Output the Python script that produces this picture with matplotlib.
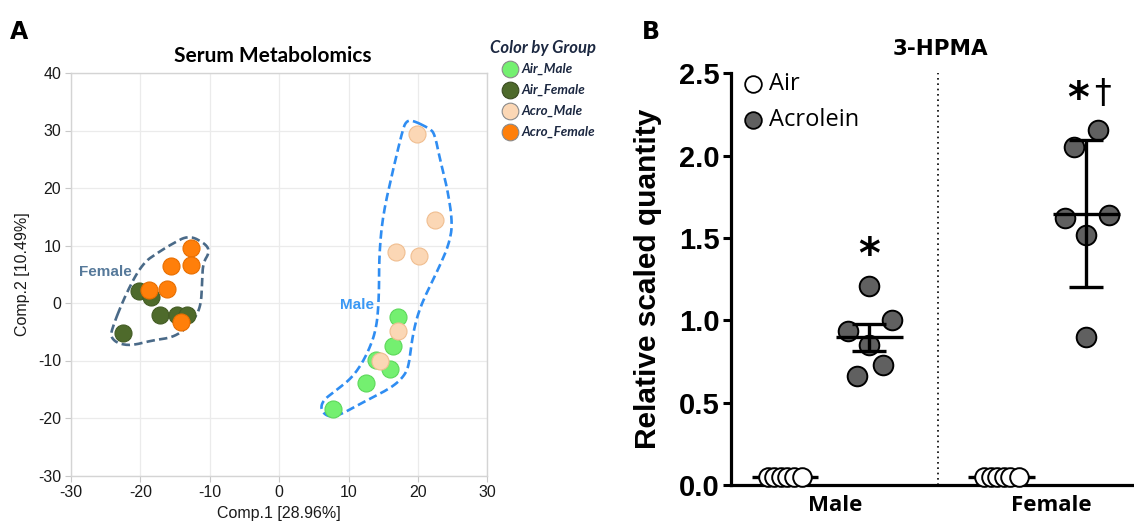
import numpy as np
import matplotlib
matplotlib.use("Agg")
import matplotlib.pyplot as plt
from matplotlib.lines import Line2D

plt.rcParams["axes.unicode_minus"] = False

# ---------------- Panel A data (PCA scores) ----------------
groups = ["Air_Male", "Air_Female", "Acro_Male", "Acro_Female"]
air_male_x = [17.2, 16.4, 14.0, 16.0, 12.5, 7.8]
air_male_y = [-2.4, -7.5, -9.9, -11.4, -13.9, -18.4]
air_female_x = [-20.2, -18.5, -17.2, -14.7, -13.3, -22.5]
air_female_y = [2.1, 1.0, -2.1, -2.1, -2.0, -5.2]
acro_male_x = [19.8, 22.5, 16.9, 20.2, 17.2, 14.5]
acro_male_y = [29.4, 14.5, 8.8, 8.2, -4.9, -10.0]
acro_female_x = [-12.65, -12.7, -15.6, -16.1, -18.8, -14.1]
acro_female_y = [9.5, 6.6, 6.4, 2.5, 2.2, -3.3]

# hand-drawn group outlines (data coords)
female_outline_x = [-24.3, -22.1, -19.7, -17.3, -15.4, -13.0, -10.6, -10.0, -11.0, -11.1, -11.3,
                    -12.5, -14.9, -18.3, -21.2, -23.1, -24.1]
female_outline_y = [-5.05, 1.6, 6.9, 8.9, 10.3, 11.8, 10.3, 8.9, 6.9, 3.4, -0.7,
                    -3.3, -5.9, -6.5, -7.4, -7.1, -6.2]
male_outline_x = [19.2, 21.6, 22.4, 23.1, 24.3, 25.0, 24.5, 23.1, 21.4, 20.0, 19.2, 18.8, 18.3,
                  16.4, 12.5, 9.1, 7.2, 6.0, 6.25, 8.2, 10.6, 12.5, 14.0, 14.4, 14.4, 14.9,
                  16.4, 17.8, 18.3]
male_outline_y = [31.8, 30.4, 29.5, 25.4, 19.6, 13.8, 10.3, 6.3, 2.2, -1.8, -5.9, -10.0, -12.3,
                  -14.6, -17.0, -19.3, -19.9, -18.7, -17.0, -15.2, -12.9, -9.4, -4.8, 1.0, 8.0,
                  15.0, 23.1, 30.1, 31.6]

# ---------------- Panel B data (3-HPMA) ----------------
sexes = ["Male", "Female"]
treatments = ["Air", "Acrolein"]
air_male_vals = [0.05, 0.05, 0.05, 0.05, 0.05, 0.05]
air_female_vals = [0.05, 0.05, 0.05, 0.05, 0.05, 0.05]
acro_male_vals = [1.21, 1.00, 0.935, 0.85, 0.73, 0.66]
acro_female_vals = [2.155, 2.05, 1.62, 1.64, 1.52, 0.90]
acro_err = [0.082, 0.445]          # error bar half-lengths (Male, Female)
b_yticks = [0.0, 0.5, 1.0, 1.5, 2.0, 2.5]

# layout (not data)
air_jit = [-0.08, -0.05, -0.02, 0.01, 0.04, 0.08]
acro_jit_m = [0.0, 0.103, -0.10, 0.0, 0.061, -0.057]
acro_jit_f = [0.054, -0.057, -0.10, 0.103, 0.0, 0.0]
AIR_OFF, ACRO_OFF = -0.23, 0.16

W, H = 1134, 525
fig = plt.figure(figsize=(W / 100, H / 100), dpi=100)

def fx(px):
    return px / W

def fy(py):
    return 1 - py / H

ARIAL = "Liberation Sans"

# ================= Panel A =================
axA = fig.add_axes([fx(71), fy(475.5), fx(487.3) - fx(71), fy(73) - fy(475.5)])
axA.set_xlim(-30, 30)
axA.set_ylim(-30, 40)
axA.set_xticks(range(-30, 31, 10))
axA.set_yticks(range(-30, 41, 10))
axA.grid(True, color="#EBEBEB", lw=0.9)
axA.set_axisbelow(True)
for s in axA.spines.values():
    s.set_color("#D4D4D4")
    s.set_linewidth(1.0)
axA.tick_params(length=4, color="#C8C8C8", labelsize=11.5, labelcolor="#1a1a1a", pad=3)
for lab in axA.get_xticklabels() + axA.get_yticklabels():
    lab.set_family(ARIAL)
axA.set_xlabel("Comp.1 [28.96%]", fontsize=11.5, color="#1a1a1a", labelpad=4, family=ARIAL)
axA.set_ylabel("Comp.2 [10.49%]", fontsize=11.5, color="#1a1a1a", labelpad=6, family=ARIAL)
axA.set_title("Serum Metabolomics", fontsize=15, fontweight="bold", family="Lato", pad=8,
              x=0.485)


def smooth_closed(xs, ys, iters=3):
    pts = np.column_stack([xs, ys]).astype(float)
    for _ in range(iters):
        nxt = np.roll(pts, -1, axis=0)
        q = 0.75 * pts + 0.25 * nxt
        r = 0.25 * pts + 0.75 * nxt
        pts = np.empty((2 * len(q), 2))
        pts[0::2] = q
        pts[1::2] = r
    pts = np.vstack([pts, pts[:1]])
    return pts[:, 0], pts[:, 1]

fxo, fyo = smooth_closed(female_outline_x, female_outline_y)
axA.plot(fxo, fyo, color="#4A6A88", lw=1.9, ls=(0, (3.2, 1.6)), zorder=2)
mxo, myo = smooth_closed(male_outline_x, male_outline_y)
axA.plot(mxo, myo, color="#2F8DF2", lw=1.9, ls=(0, (3.2, 1.6)), zorder=2)
axA.text(-21.2, 5.4, "Female", color="#56799A", fontsize=11, fontweight="bold",
         ha="right", va="center", family=ARIAL)
axA.text(13.7, -0.4, "Male", color="#3A98F5", fontsize=11, fontweight="bold",
         ha="right", va="center", family=ARIAL)

colsA = {"Air_Male": ("#74F070", "#5CD85A"), "Air_Female": ("#4E6A2B", "#435C24"),
         "Acro_Male": ("#FBD7B5", "#F0BE90"), "Acro_Female": ("#FF7F0A", "#E86E00")}
seriesA = {"Air_Male": (air_male_x, air_male_y), "Air_Female": (air_female_x, air_female_y),
           "Acro_Male": (acro_male_x, acro_male_y), "Acro_Female": (acro_female_x, acro_female_y)}
orderA = ["Air_Female", "Acro_Female", "Air_Male", "Acro_Male"]
for g in orderA:
    xs, ys = seriesA[g]
    fc, ec = colsA[g]
    axA.scatter(xs, ys, s=150, color=fc, edgecolor=ec, lw=0.8, zorder=3)

# legend of panel A (placed manually)
fig.text(fx(490), fy(48), "Color by Group", fontsize=12, fontweight="bold", style="italic",
         family="Lato", color="#1C2841", va="center", ha="left")
for k, g in enumerate(groups):
    yy = fy(69 + k * 21.1)
    fig.add_artist(Line2D([fx(510)], [yy], transform=fig.transFigure, ls="none", marker="o",
                          ms=12, mfc=colsA[g][0],
                          mec="#8A8A8A" if g != "Air_Female" else "#3A4A20", mew=0.8))
    fig.text(fx(522), yy, g, fontsize=9.6, fontweight="bold", style="italic", family="Lato",
             color="#1C2841", va="center", ha="left")

# ================= Panel B =================
y0px, y25px = 485.0, 73.3
axB = fig.add_axes([fx(730.7), fy(y0px), fx(1134) - fx(730.7), fy(y25px) - fy(y0px)])
axB.set_xlim(-0.48, 1.38)
axB.set_ylim(0, 2.5)
axB.set_yticks(b_yticks)
axB.set_yticklabels([f"{v:.1f}" for v in b_yticks])
axB.set_xticks([0, 1])
axB.set_xticklabels(sexes)
for s in ["top", "right"]:
    axB.spines[s].set_visible(False)
for s in ["left", "bottom"]:
    axB.spines[s].set_linewidth(2.3)
axB.spines["left"].set_bounds(0, 2.5)
axB.tick_params(axis="y", length=6, width=2.2, pad=2)
axB.tick_params(axis="x", length=0, pad=7)
for lab in axB.get_yticklabels():
    lab.set_fontsize(21)
    lab.set_fontweight("bold")
    lab.set_family(ARIAL)
for lab in axB.get_xticklabels():
    lab.set_fontsize(16)
    lab.set_fontweight("bold")
    lab.set_family("Open Sans")
axB.set_ylabel("Relative scaled quantity", fontsize=21.5, fontweight="bold",
               family=ARIAL, labelpad=12)
axB.set_title("3-HPMA", fontsize=15.5, fontweight="bold", family="DejaVu Sans", x=0.52, pad=13)

axB.axvline(0.475, color="black", lw=1.2, ls=(0, (1, 2.2)), zorder=1)

air_vals = [air_male_vals, air_female_vals]
acro_vals = [acro_male_vals, acro_female_vals]
acro_jits = [acro_jit_m, acro_jit_f]
half = 0.154
for i in range(2):
    xa = i + AIR_OFF
    m_air = float(np.mean(air_vals[i]))
    axB.hlines(m_air, xa - half, xa + half, color="black", lw=2.4, zorder=2)
    axB.scatter([xa + j for j in air_jit], air_vals[i], s=180, color="white",
                edgecolor="black", lw=1.4, zorder=3, clip_on=False)
    xc = i + ACRO_OFF
    m = float(np.mean(acro_vals[i]))
    axB.scatter([xc + j for j in acro_jits[i]], acro_vals[i], s=200, color="#606060",
                edgecolor="black", lw=1.4, zorder=3)
    axB.hlines(m, xc - half, xc + half, color="black", lw=2.4, zorder=4)
    axB.errorbar([xc], [m], yerr=[acro_err[i]], fmt="none", ecolor="black", elinewidth=2.4,
                 capsize=12, capthick=2.4, zorder=4)

# significance marks
axB.text(0 + ACRO_OFF, 1.39, "*", fontsize=30, fontweight="bold", ha="center", va="center",
         family="DejaVu Sans")
axB.text(1 + ACRO_OFF - 0.04, 2.34, "*", fontsize=30, fontweight="bold", ha="center",
         va="center", family="DejaVu Sans")
axB.text(1 + ACRO_OFF + 0.075, 2.375, "\u2020", fontsize=24, ha="center", va="center",
         family="DejaVu Sans")

# legend of panel B (placed manually)
legB_fc = ["white", "#606060"]
for k, lab in enumerate(treatments):
    yy = fy(83.5 + k * 36)
    fig.add_artist(Line2D([fx(753)], [yy], transform=fig.transFigure, ls="none", marker="o",
                          ms=12, mfc=legB_fc[k], mec="black", mew=1.3))
    fig.text(fx(769), yy, lab, fontsize=17, family="Open Sans", va="center", ha="left")

# panel letters
fig.text(fx(10), fy(32), "A", fontsize=17, fontweight="bold", va="center", ha="left")
fig.text(fx(642), fy(32), "B", fontsize=17, fontweight="bold", va="center", ha="left")

fig.savefig("out.png", dpi=100)
